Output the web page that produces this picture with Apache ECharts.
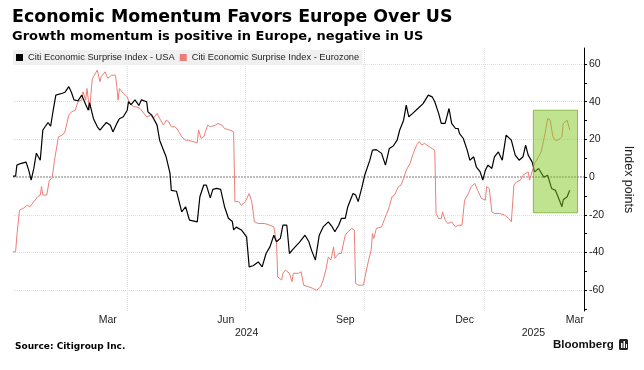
<!DOCTYPE html>
<html>
<head>
<meta charset="utf-8">
<script src="https://cdn.jsdelivr.net/npm/echarts@6/dist/echarts.min.js"></script>
<style>
html,body{margin:0;padding:0;background:#fff;}
#chart{width:644px;height:370px;}
</style>
</head>
<body>
<div id="chart"></div>
<script>
// Day numbers are days since 2024-01-01
const usaDays = [3,5,6,8,13,15,17,19,21,24,26,30,32,34,36,41,43,46,48,50,53,56,59,61,62,65,68,70,73,75,78,80,83,85,88,91,92,94,97,100,102,106,107,110,111,114,116,119,120,121,124,125,129,133,136,139,145,147,150,152,155,157,160,163,166,169,172,173,175,179,180,183,185,188,192,195,198,201,204,206,209,211,214,216,219,224,228,231,233,236,239,242,246,249,251,254,256,259,261,265,267,269,272,274,278,280,283,287,290,293,296,299,301,304,306,308,311,315,319,323,326,328,331,333,336,339,341,344,346,347,350,353,355,358,360,363,365,367,369,372,374,377,380,383,387,390,393,396,398,400,403,405,408,412,415,418,421,423,426,427,430,432];
const usaValues = [0.5,0.5,6.4,7,8,4,-1.6,4.5,12.7,9,25,29,27,35.5,43.5,44.5,45,48,45,41,40.5,43.5,38.5,35.5,39.5,31,26.7,25,27.5,29,27.5,24,28.5,31,32,35.5,40,38.5,41,38,41,40,34.6,32.8,33.5,27.6,19.6,14.3,15,10.8,2,-7,-7.5,-18.4,-15.7,-22.8,-23.7,-10.4,-4.2,-4.2,-11,-6.5,-6,-6.5,-15.7,-21.8,-23.5,-28,-26.5,-28,-29,-31.7,-47.6,-47,-45,-47.6,-40.5,-37,-30.8,-34.3,-32.5,-25.5,-25.5,-40.5,-38,-34.3,-30.8,-34.3,-38.7,-44,-30.8,-26.4,-23.7,-26.4,-29,-25.5,-21.9,-21.9,-15.7,-8.7,-9.5,-13,-5,1,9,14.3,14.6,12.6,6.4,15.2,16.5,19.6,25,30.2,38.2,32,33.8,36.4,39,43.5,42.6,40,33.8,28.5,28.5,36.4,28.5,25.8,25.8,23.2,20.5,14.3,9,10.8,5.5,2.8,-1.6,3.7,6.4,4.6,10.8,13.4,9,22.3,19.6,11.7,9,10.8,17,11.7,8.1,2.8,4.6,0,1,-6,-7,-10.4,-15.7,-12,-10.4,-7];

const euroDays = [3,5,6,7,8,11,14,16,19,22,24,25,26,29,31,33,34,35,38,41,43,46,48,51,53,56,57,59,60,62,64,65,68,69,70,71,74,76,79,82,83,84,85,88,91,93,96,98,101,103,106,109,111,114,116,119,121,123,125,128,130,133,136,138,142,145,146,147,148,150,151,153,155,159,161,164,166,170,173,174,177,179,182,185,187,189,192,197,201,204,206,207,210,211,213,214,216,218,219,223,225,227,231,234,237,240,242,244,246,248,250,251,254,256,259,260,261,264,266,267,269,273,274,277,279,280,281,283,287,288,291,293,295,297,300,302,304,306,309,311,314,315,316,318,320,323,326,328,329,331,333,334,336,338,341,344,346,349,351,354,356,359,361,364,367,368,370,372,374,378,382,385,387,388,389,391,394,396,398,400,401,403,405,408,410,413,415,417,419,421,423,426,427,430,431,432];
const euroValues = [-39.6,-39.6,-30.8,-31.5,-17.5,-16.5,-14.9,-15.8,-13,-10.4,-9.5,-5,-9.5,-9.5,-1.6,-0.7,3.7,9,21.4,22.3,24,33,34.6,35.5,40,40.8,45.3,40.8,47,35.5,51.5,53.3,56.8,57.7,50.6,53.3,55.9,52.4,54.1,54.1,48,40.8,47,44.5,42.6,39,37.3,37.3,36.4,34.6,32,32.8,31.1,33.8,31.1,27.6,30.2,29.3,26.7,26.7,25,21.4,19.6,19.6,18.8,18.2,25,25.8,20.5,21.4,20.5,27.6,26.7,27.6,28.5,27.6,25.8,25,24,-13,-13,-14.9,-13,-8.7,-13,-23.7,-24.6,-24.6,-25.5,-26.4,-34.3,-52.9,-54.6,-51,-49.3,-48.5,-51,-55.5,-51,-51,-50.2,-57.3,-58.2,-59,-60,-58.2,-54.6,-49.3,-42.3,-44,-37,-43,-40.5,-40.5,-30.8,-31.7,-29,-27.2,-28,-56.4,-57.3,-57.3,-53.8,-44,-38.7,-29.9,-32.5,-27.2,-26.4,-24.6,-19.3,-15.7,-10.4,-9.5,-5,-4.2,-0.7,3.7,7.3,11.7,17,17.5,18.8,17,17.9,16.5,15.2,14.3,-19.3,-21.9,-21.9,-18.4,-22.8,-24.6,-23.7,-26.4,-25.5,-25.5,-12.2,-8.7,-5,-3.3,-7,-11.3,-12.2,-5,-6,-18.4,-19.3,-19.3,-20.2,-21.9,-23.7,-24.6,-4.2,-2.5,-1.6,1,2,2.8,-1.6,2.8,7.3,10.8,13.4,23.2,31.1,30.2,21.4,19.6,19.6,21.4,28.5,30.2,29.3,25];

const seriesNames = ['Citi Economic Surprise Index - USA', 'Citi Economic Surprise Index - Eurozone'];
const monthLabelDays = [76, 167, 259, 351, 436];
const monthLabels = ['Mar', 'Jun', 'Sep', 'Dec', 'Mar'];
const yearLabelDays = [183, 404];
const yearLabels = ['2024', '2025'];
const quarterGridDays = [91, 182, 274, 366];
const yGridValues = [-60, -40, -20, 20, 40, 60];
const yLabelValues = [-60, -40, -20, 0, 20, 40, 60];
const yTickValues = [-70, -60, -50, -40, -30, -20, -10, 0, 10, 20, 30, 40, 50, 60];
const xRangeDays = [3, 443];
const highlightDays = [404, 438];
const highlightValues = [-18.9, 35.5];

const usaData = usaDays.map((d, i) => [d, usaValues[i]]);
const euroData = euroDays.map((d, i) => [d, euroValues[i]]);

const sans = 'Liberation Sans';
const chart = echarts.init(document.getElementById('chart'), null, {renderer: 'canvas'});

chart.setOption({
  animation: false,
  title: [
    {text: 'Economic Momentum Favors Europe Over US', left: 12, top: 9, padding: 0,
     textStyle: {fontFamily: 'DejaVu Sans', fontWeight: 'bold', fontSize: 17.4, color: '#000'}},
    {text: 'Growth momentum is positive in Europe, negative in US', left: 12, top: 30, padding: 0,
     textStyle: {fontFamily: 'DejaVu Sans', fontWeight: 'bold', fontSize: 13, color: '#000'}},
    {text: 'Source: Citigroup Inc.', left: 15, top: 342, padding: 0,
     textStyle: {fontFamily: 'DejaVu Sans', fontWeight: 'bold', fontSize: 9, color: '#000'}},
    {text: 'Bloomberg', left: 553, top: 339, padding: 0,
     textStyle: {fontFamily: sans, fontWeight: 'bold', fontSize: 11.5, color: '#111'}}
  ],
  legend: {
    left: 13, top: 50,
    padding: [3, 3, 3, 3],
    backgroundColor: '#f0f0f0',
    itemWidth: 7, itemHeight: 7, itemGap: 5,
    icon: 'rect',
    selectedMode: false,
    textStyle: {fontFamily: sans, fontSize: 9.3, color: '#222'},
    data: seriesNames
  },
  grid: {left: 13, right: 60, top: 48, bottom: 59, containLabel: false},
  xAxis: [
    {
      type: 'value', min: xRangeDays[0], max: xRangeDays[1],
      axisLine: {show: false}, axisTick: {show: false}, splitLine: {show: false},
      axisLabel: {
        customValues: monthLabelDays,
        formatter: v => monthLabels[monthLabelDays.indexOf(v)] || '',
        fontFamily: sans, fontSize: 10.5, color: '#222', margin: 4
      }
    },
    {
      type: 'value', min: xRangeDays[0], max: xRangeDays[1],
      position: 'bottom', offset: 13,
      axisLine: {show: false}, axisTick: {show: false}, splitLine: {show: false},
      axisLabel: {
        customValues: yearLabelDays,
        formatter: v => yearLabels[yearLabelDays.indexOf(v)] || '',
        fontFamily: sans, fontSize: 10.5, color: '#222', margin: 4
      }
    }
  ],
  yAxis: {
    type: 'value', position: 'right', min: -71, max: 68.5,
    name: 'Index points', nameLocation: 'middle', nameRotate: -90, nameGap: 38,
    nameTextStyle: {fontFamily: sans, fontSize: 12.5, color: '#222'},
    axisLine: {show: true, lineStyle: {color: '#000', width: 1}},
    axisTick: {show: true, customValues: yTickValues, length: 3, inside: false, lineStyle: {color: '#000'}},
    axisLabel: {customValues: yLabelValues, fontFamily: sans, fontSize: 10.5, color: '#222', margin: 5},
    splitLine: {show: false}
  },
  series: [
    {
      name: seriesNames[0], type: 'line', data: usaData, showSymbol: false, symbol: 'none',
      color: '#000', lineStyle: {color: '#000', width: 1.2}, z: 3,
      markLine: {
        silent: true, symbol: 'none', z: 1, label: {show: false},
        lineStyle: {color: '#e0e0e0', type: 'dotted', width: 1},
        data: quarterGridDays.map(d => ({xAxis: d}))
          .concat(yGridValues.map(v => ({yAxis: v})))
          .concat([{yAxis: 0, lineStyle: {color: '#a8a8a8', type: [2, 1], width: 1.6}}])
      }
    },
    {
      name: seriesNames[1], type: 'line', data: euroData, showSymbol: false, symbol: 'none',
      color: '#ec7e77', lineStyle: {color: '#ec7e77', width: 1}, z: 2
    },
    {
      name: 'highlight', type: 'line', data: [], z: 10,
      markArea: {
        silent: true, z: 10,
        itemStyle: {color: 'rgba(129,199,31,0.5)', borderColor: 'rgba(105,165,25,0.7)', borderWidth: 1},
        data: [[{xAxis: highlightDays[0], yAxis: highlightValues[0]},
                {xAxis: highlightDays[1], yAxis: highlightValues[1]}]]
      }
    }
  ],
  graphic: [
    {type: 'rect', left: 619, top: 339, shape: {width: 9, height: 11, r: 1.5}, style: {fill: '#222'}},
    {type: 'rect', left: 621, top: 343, shape: {width: 1.5, height: 5}, style: {fill: '#fff'}},
    {type: 'rect', left: 623.5, top: 341, shape: {width: 1.5, height: 7}, style: {fill: '#fff'}},
    {type: 'rect', left: 626, top: 344, shape: {width: 1, height: 4}, style: {fill: '#fff'}}
  ]
});
</script>
</body>
</html>
